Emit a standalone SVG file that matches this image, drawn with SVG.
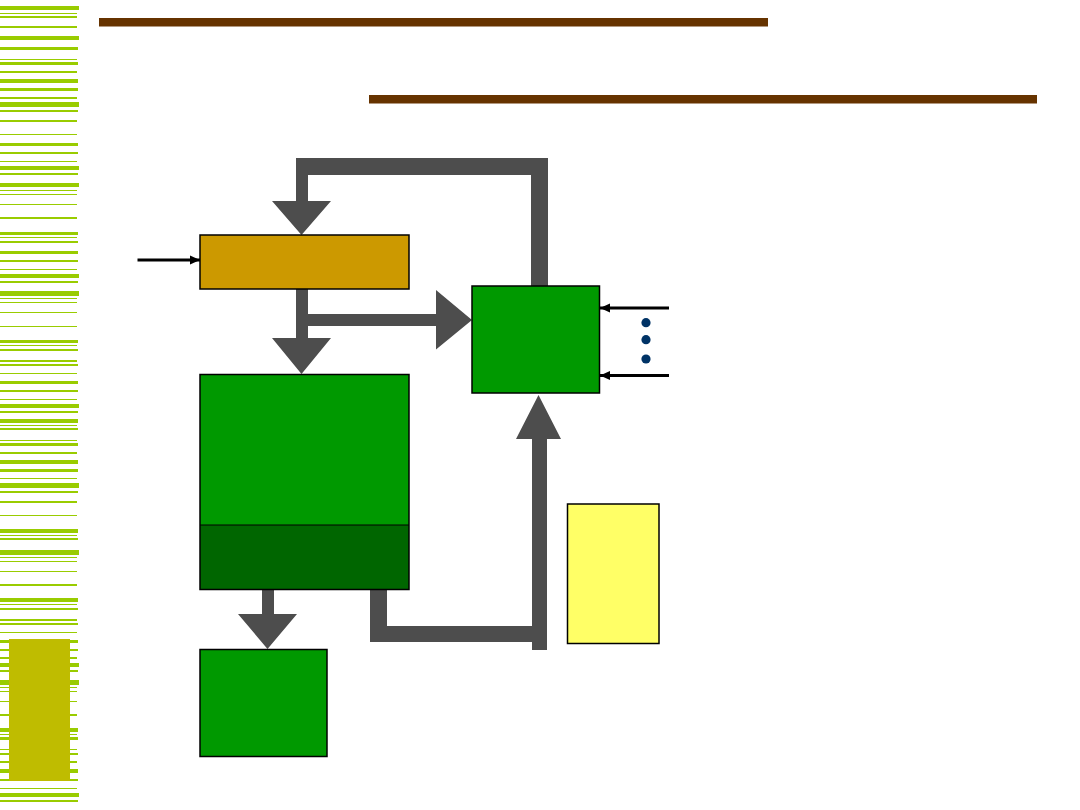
<svg xmlns="http://www.w3.org/2000/svg" width="1080" height="810" viewBox="0 0 1080 810">
<style>
.st{fill:#99CC00}
.br{fill:#663300}
.bx{stroke:#000;stroke-width:1.5}
.gr{fill:#4D4D4D}
.ln{stroke:#000;stroke-width:3;fill:none}
.dot{fill:#003366}
</style>
<defs>
<marker id="ah" markerWidth="11" markerHeight="10" refX="10" refY="5" orient="auto" markerUnits="userSpaceOnUse">
<path d="M0,0.5 L10,5 L0,9.5 Z" fill="#000"/>
</marker>
</defs>
<rect width="1080" height="810" fill="#fff"/>
<g id="stripes">
<rect class="st" x="0" y="6" width="79" height="4"/>
<rect class="st" x="0" y="13" width="77" height="1"/>
<rect class="st" x="0" y="16" width="77" height="2"/>
<rect class="st" x="0" y="26" width="77" height="2"/>
<rect class="st" x="0" y="36" width="79" height="4"/>
<rect class="st" x="0" y="47" width="78" height="3"/>
<rect class="st" x="0" y="59" width="77" height="1"/>
<rect class="st" x="0" y="62" width="78" height="3"/>
<rect class="st" x="0" y="71" width="77" height="2"/>
<rect class="st" x="0" y="79" width="78" height="4"/>
<rect class="st" x="0" y="88" width="78" height="3"/>
<rect class="st" x="0" y="97" width="77" height="2"/>
<rect class="st" x="0" y="102" width="79" height="5"/>
<rect class="st" x="0" y="110" width="78" height="2"/>
<rect class="st" x="0" y="120" width="77" height="2"/>
<rect class="st" x="0" y="134" width="77" height="1"/>
<rect class="st" x="0" y="143" width="78" height="3"/>
<rect class="st" x="0" y="152" width="78" height="2"/>
<rect class="st" x="0" y="161" width="77" height="1"/>
<rect class="st" x="0" y="166" width="79" height="4"/>
<rect class="st" x="0" y="173" width="78" height="2"/>
<rect class="st" x="0" y="183" width="79" height="4"/>
<rect class="st" x="0" y="190" width="77" height="1"/>
<rect class="st" x="0" y="194" width="77" height="1"/>
<rect class="st" x="0" y="204" width="77" height="1"/>
<rect class="st" x="0" y="217" width="77" height="2"/>
<rect class="st" x="0" y="232" width="78" height="3"/>
<rect class="st" x="0" y="237" width="77" height="1"/>
<rect class="st" x="0" y="241" width="78" height="2"/>
<rect class="st" x="0" y="251" width="78" height="3"/>
<rect class="st" x="0" y="260" width="78" height="2"/>
<rect class="st" x="0" y="269" width="77" height="1"/>
<rect class="st" x="0" y="274" width="79" height="4"/>
<rect class="st" x="0" y="281" width="78" height="2"/>
<rect class="st" x="0" y="291" width="79" height="5"/>
<rect class="st" x="0" y="298" width="77" height="1"/>
<rect class="st" x="0" y="302" width="77" height="1"/>
<rect class="st" x="0" y="312" width="77" height="1"/>
<rect class="st" x="0" y="326" width="77" height="1"/>
<rect class="st" x="0" y="340" width="78" height="3"/>
<rect class="st" x="0" y="345" width="77" height="1"/>
<rect class="st" x="0" y="349" width="78" height="2"/>
<rect class="st" x="0" y="360" width="77" height="2"/>
<rect class="st" x="0" y="364" width="78" height="2"/>
<rect class="st" x="0" y="373" width="77" height="1"/>
<rect class="st" x="0" y="381" width="78" height="3"/>
<rect class="st" x="0" y="390" width="78" height="2"/>
<rect class="st" x="0" y="399" width="77" height="1"/>
<rect class="st" x="0" y="404" width="79" height="4"/>
<rect class="st" x="0" y="411" width="78" height="2"/>
<rect class="st" x="0" y="419" width="78" height="4"/>
<rect class="st" x="0" y="425" width="77" height="1"/>
<rect class="st" x="0" y="428" width="78" height="2"/>
<rect class="st" x="0" y="440" width="77" height="1"/>
<rect class="st" x="0" y="443" width="78" height="3"/>
<rect class="st" x="0" y="452" width="77" height="2"/>
<rect class="st" x="0" y="460" width="78" height="4"/>
<rect class="st" x="0" y="469" width="78" height="3"/>
<rect class="st" x="0" y="478" width="77" height="1"/>
<rect class="st" x="0" y="483" width="79" height="5"/>
<rect class="st" x="0" y="491" width="78" height="2"/>
<rect class="st" x="0" y="501" width="77" height="2"/>
<rect class="st" x="0" y="515" width="77" height="1"/>
<rect class="st" x="0" y="529" width="78" height="4"/>
<rect class="st" x="0" y="535" width="77" height="1"/>
<rect class="st" x="0" y="538" width="78" height="2"/>
<rect class="st" x="0" y="550" width="79" height="5"/>
<rect class="st" x="0" y="557" width="77" height="1"/>
<rect class="st" x="0" y="561" width="77" height="1"/>
<rect class="st" x="0" y="571" width="77" height="1"/>
<rect class="st" x="0" y="584" width="77" height="2"/>
<rect class="st" x="0" y="598" width="78" height="4"/>
<rect class="st" x="0" y="604" width="77" height="1"/>
<rect class="st" x="0" y="608" width="78" height="2"/>
<rect class="st" x="0" y="619" width="77" height="2"/>
<rect class="st" x="0" y="623" width="78" height="2"/>
<rect class="st" x="0" y="632" width="77" height="1"/>
<rect class="st" x="0" y="640" width="78" height="3"/>
<rect class="st" x="0" y="649" width="78" height="2"/>
<rect class="st" x="0" y="657" width="77" height="2"/>
<rect class="st" x="0" y="663" width="79" height="4"/>
<rect class="st" x="0" y="670" width="78" height="2"/>
<rect class="st" x="0" y="680" width="79" height="5"/>
<rect class="st" x="0" y="687" width="77" height="1"/>
<rect class="st" x="0" y="691" width="77" height="1"/>
<rect class="st" x="0" y="701" width="77" height="1"/>
<rect class="st" x="0" y="714" width="77" height="2"/>
<rect class="st" x="0" y="728" width="78" height="4"/>
<rect class="st" x="0" y="734" width="77" height="1"/>
<rect class="st" x="0" y="737" width="78" height="3"/>
<rect class="st" x="0" y="749" width="77" height="1"/>
<rect class="st" x="0" y="753" width="78" height="2"/>
<rect class="st" x="0" y="761" width="77" height="2"/>
<rect class="st" x="0" y="769" width="78" height="4"/>
<rect class="st" x="0" y="779" width="78" height="2"/>
<rect class="st" x="0" y="788" width="77" height="1"/>
<rect class="st" x="0" y="793" width="79" height="4"/>
<rect class="st" x="0" y="800" width="78" height="2"/>
<rect x="9" y="639" width="61" height="142" fill="#BFBC00"/>
</g>
<g id="rules">
<rect class="br" x="99" y="18" width="669" height="8.5"/>
<rect class="br" x="369" y="95" width="668" height="8.5"/>
</g>
<g id="connectors">
<polygon class="gr" points="272,201 296,201 296,158 548,158 548,286 531,286 531,175 308,175 308,201 331,201 301.5,235"/>
<polygon class="gr" points="296,289 308,289 308,314 436,314 436,290 472,320 436,349.5 436,326 308,326 308,338 331,338 301.5,374 272,338 296,338"/>
<polygon class="gr" points="262,590 274,590 274,614 297,614 267.5,649 238,614 262,614"/>
<polygon class="gr" points="370,590 387,590 387,626 532,626 532,439 516,439 538.5,395 561,439 547,439 547,650 532,650 532,642 370,642"/>
<line class="ln" x1="137.5" y1="260" x2="200" y2="260" marker-end="url(#ah)"/>
<line class="ln" x1="669" y1="308" x2="600" y2="308" marker-end="url(#ah)"/>
<line class="ln" x1="669" y1="375.5" x2="600" y2="375.5" marker-end="url(#ah)"/>
</g>
<g id="box-top">
<rect class="bx" x="200" y="235" width="209" height="54" fill="#CC9900"/>
</g>
<g id="box-main">
<rect x="200" y="374.5" width="209" height="150.5" fill="#009900"/>
<rect x="200" y="525" width="209" height="65" fill="#006600"/>
<line x1="200" y1="525" x2="409" y2="525" stroke="#000" stroke-width="1"/>
<rect class="bx" x="200" y="374.5" width="209" height="215" fill="none"/>
</g>
<g id="box-bottom">
<rect class="bx" x="200" y="649.5" width="127" height="107" fill="#009900"/>
</g>
<g id="box-right">
<rect class="bx" x="472" y="286" width="127.5" height="107" fill="#009900"/>
</g>
<g id="dots">
<circle class="dot" cx="646" cy="322.7" r="4.6"/>
<circle class="dot" cx="646" cy="339.7" r="4.6"/>
<circle class="dot" cx="646" cy="359" r="4.6"/>
</g>
<g id="box-yellow">
<rect class="bx" x="567.5" y="504" width="91.5" height="139.5" fill="#FFFF66"/>
</g>
</svg>
